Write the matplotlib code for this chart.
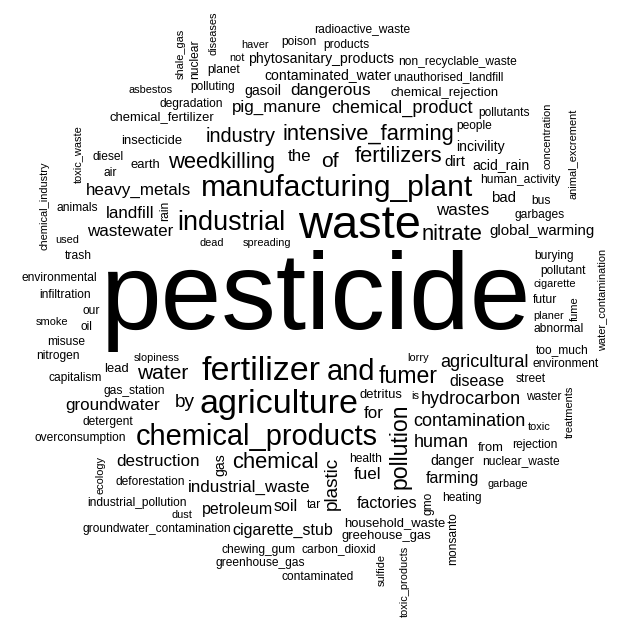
import numpy as np
import matplotlib
matplotlib.use('Agg')
import matplotlib.pyplot as plt

# ---------------- data (word frequencies) ----------------
words = [
    "pesticide", "waste", "fertilizer", "agriculture", "manufacturing_plant",
    "chemical_products", "and", "industrial", "fumer", "pollution",
    "fertilizers", "nitrate", "intensive_farming", "weedkilling", "chemical",
    "of", "water", "industry", "plastic", "by",
    "contamination", "hydrocarbon", "chemical_product", "human", "agricultural",
    "wastes", "pig_manure", "industrial_waste", "heavy_metals", "wastewater",
    "dangerous", "landfill", "groundwater", "the", "fuel",
    "destruction", "for", "disease", "petroleum", "factories",
    "cigarette_stub", "farming", "soil", "global_warming", "dirt",
    "bad", "gas", "contaminated_water", "gasoil", "acid_rain",
    "danger", "phytosanitary_products", "incivility", "household_waste", "chemical_fertilizer",
    "insecticide", "earth", "lead", "detritus", "from",
    "greehouse_gas", "chemical_rejection", "polluting", "gas_station", "human_activity",
    "degradation", "environmental", "street", "heating", "garbages",
    "deforestation", "abnormal", "chewing_gum", "too_much", "our",
    "futur", "pollutant", "infiltration", "unauthorised_landfill", "tar",
    "people", "products", "planet", "trash", "oil",
    "health", "detergent", "burying", "air", "waster",
    "misuse", "carbon_dioxid", "bus", "nuclear_waste", "poison",
    "diesel", "environment", "nitrogen", "capitalism", "overconsumption",
    "animals", "pollutants", "industrial_pollution", "radioactive_waste", "groundwater_contamination",
    "greenhouse_gas", "rejection", "contaminated", "non_recyclable_waste", "nuclear",
    "monsanto", "gmo", "rain", "lorry", "dust",
    "spreading", "cigarette", "toxic", "not", "is",
    "haver", "used", "dead", "smoke", "garbage",
    "asbestos", "slopiness", "planer", "sulfide", "shale_gas",
    "fume", "treatments", "toxic_waste", "water_contamination", "chemical_industry",
    "animal_excrement", "concentration", "toxic_products", "ecology", "diseases",
]
freqs = [
    99, 37, 24, 24, 20,
    19, 19, 17, 13, 13,
    12, 12, 12, 12, 12,
    11, 11, 10, 9, 9,
    8, 8, 8, 8, 8,
    7, 7, 7, 7, 7,
    7, 7, 7, 7, 7,
    7, 7, 6, 6, 6,
    6, 6, 6, 5, 5,
    5, 4, 4, 4, 4,
    4, 4, 4, 3, 3,
    3, 3, 3, 3, 3,
    3, 3, 2, 2, 2,
    2, 2, 2, 2, 2,
    2, 2, 2, 2, 2,
    2, 2, 2, 2, 2,
    2, 2, 2, 2, 2,
    2, 2, 2, 2, 2,
    2, 2, 2, 2, 2,
    2, 2, 2, 2, 2,
    2, 2, 2, 2, 2,
    2, 2, 2, 2, 2,
    2, 2, 2, 1, 1,
    1, 1, 1, 1, 1,
    1, 1, 1, 1, 1,
    1, 1, 1, 1, 1,
    1, 1, 1, 1, 1,
    1, 1, 1, 1, 1,
]
rotated_words = {
    "pollution", "plastic", "gas", "nuclear", "monsanto", "gmo", "rain",
    "sulfide", "shale_gas", "fume", "treatments", "toxic_waste",
    "water_contamination", "chemical_industry", "animal_excrement",
    "concentration", "toxic_products", "ecology", "diseases",
}

# ---------------- figure ----------------
W, H = 622, 621
fig = plt.figure(figsize=(W / 100, H / 100), dpi=100)
ax = fig.add_axes([0, 0, 1, 1])
ax.set_xlim(0, W)
ax.set_ylim(0, H)
ax.axis('off')
renderer = fig.canvas.get_renderer()

FONT = 'Liberation Sans'
MIN_PX, MAX_PX = 11.0, 109.0
fmin, fmax = min(freqs), max(freqs)


def size_px(f):
    return MIN_PX + (MAX_PX - MIN_PX) * (f - fmin) / (fmax - fmin)


# spiral layout, largest words first (as in R's wordcloud)
order = sorted(range(len(words)), key=lambda i: -freqs[i])
placed = np.zeros((0, 4))
cx0, cy0 = 316.0, 320.0
pad = 0.5
TSTEP = 0.1
RSTEP = 0.05 * W
nsteps = 2500
steps = np.arange(nsteps)
rad = RSTEP * TSTEP / (2 * np.pi) * steps
theta_base = TSTEP * steps

for k, i in enumerate(order):
    w = words[i]
    px = size_px(freqs[i])
    rot = w in rotated_words
    t = ax.text(0, 0, w, fontsize=px * 0.72, family=FONT,
                rotation=90 if rot else 0, rotation_mode='anchor',
                ha='left', va='baseline', color='black')
    bb = t.get_window_extent(renderer)
    org = ax.transData.transform((0, 0))
    bx0, bx1 = bb.x0 - org[0], bb.x1 - org[0]
    by0, by1 = bb.y0 - org[1], bb.y1 - org[1]
    hw = (bx1 - bx0) / 2 + pad
    hh = (by1 - by0) / 2 + pad
    mx = (bx0 + bx1) / 2
    my = (by0 + by1) / 2
    th0 = (k * 2.39996) % (2 * np.pi)
    th = theta_base + th0
    cxs = cx0 + rad * np.cos(th)
    cys = cy0 + rad * np.sin(th)
    ok = (cxs - hw >= 1) & (cxs + hw <= W - 1) & (cys - hh >= 1) & (cys + hh <= H - 1)
    if len(placed):
        ov = ((cxs[:, None] - hw < placed[None, :, 1]) &
              (cxs[:, None] + hw > placed[None, :, 0]) &
              (cys[:, None] - hh < placed[None, :, 3]) &
              (cys[:, None] + hh > placed[None, :, 2])).any(axis=1)
        ok &= ~ov
    idx = np.flatnonzero(ok)
    if idx.size == 0:
        # fall back to the finest scan of free space
        t.set_fontsize(px * 0.72 * 0.85)
        continue
    j = idx[0]
    cx, cy = cxs[j], cys[j]
    placed = np.vstack([placed, [cx - hw, cx + hw, cy - hh, cy + hh]])
    t.set_position((cx - mx, cy - my))

fig.savefig('out.png', dpi=100, facecolor='white')
